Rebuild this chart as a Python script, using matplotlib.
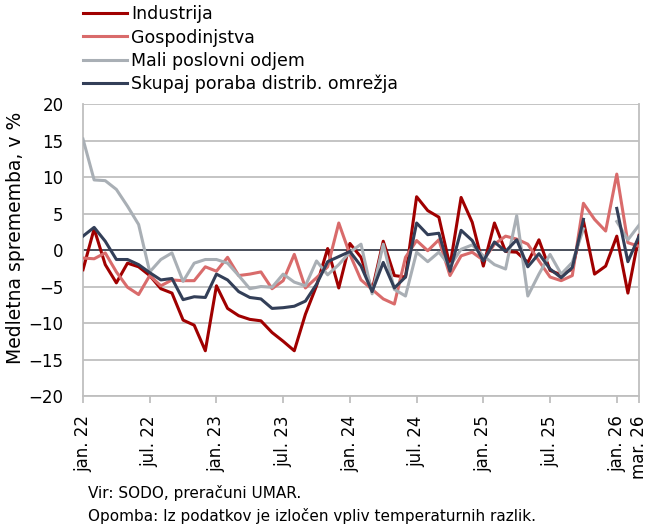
import numpy as np
import matplotlib.pyplot as plt

nan = np.nan

# monthly values, jan. 22 .. mar. 26 (51 months)
industrija = [-2.7, 2.9, -2.0, -4.5, -1.8, -2.3, -3.5, -5.3, -5.9, -9.6,
              -10.3, -13.8, -4.9, -8.0, -9.0, -9.5, -9.7, -11.3, -12.5, -13.8,
              -8.8, -4.9, 0.2, -5.2, 0.9, -1.0, -5.5, 1.2, -3.5, -3.7,
              7.3, 5.4, 4.5, -2.2, 7.2, 3.8, -2.2, 3.7, -0.2, -0.3,
              -1.7, 1.4, -2.8, -3.4, -2.6, 4.0, -3.3, -2.2, 1.9, -5.9, 2.0]
gospodinjstva = [-1.1, -1.2, -0.4, -3.0, -5.1, -6.1, -3.5, -4.9, -4.1, -4.2,
                 -4.2, -2.3, -2.9, -1.0, -3.5, -3.3, -3.0, -5.3, -4.2, -0.6,
                 -5.2, -3.8, -2.3, 3.7, -0.6, -4.1, -5.4, -6.7, -7.4, -1.0,
                 1.3, -0.1, 1.4, -3.5, -0.8, -0.3, -1.4, 0.8, 1.9, 1.5,
                 0.8, -1.5, -3.7, -4.2, -3.5, 6.4, 4.2, 2.6, 10.4, 1.0, 0.5]
mali_odjem = [15.2, 9.6, 9.5, 8.3, 6.0, 3.5, -3.0, -1.3, -0.4, -4.3,
              -1.8, -1.3, -1.3, -1.8, -3.5, -5.3, -5.0, -5.1, -3.3, -4.4,
              -4.9, -1.5, -3.4, -2.0, -0.3, 0.8, -6.0, 0.8, -5.4, -6.3,
              -0.3, -1.6, -0.3, -2.2, 0.1, 0.7, -0.8, -2.0, -2.6, 4.7,
              -6.3, -3.3, -0.6, -3.3, -1.7, 2.9, nan, nan, 3.9, 1.4, 3.4]
skupaj = [1.9, 3.1, 1.2, -1.3, -1.3, -2.0, -3.1, -4.1, -3.9, -6.8,
          -6.4, -6.5, -3.3, -4.1, -5.7, -6.5, -6.7, -8.0, -7.9, -7.7,
          -7.0, -4.7, -1.6, -0.9, -0.2, -2.2, -5.7, -1.7, -5.2, -3.7,
          3.7, 2.1, 2.3, -2.9, 2.7, 1.3, -1.5, 1.1, -0.2, 1.4,
          -2.3, -0.5, -2.6, -3.8, -2.4, 4.2, nan, nan, 5.7, -1.6, 1.9]

tick_pos = [0, 6, 12, 18, 24, 30, 36, 42, 48, 50]
tick_labels = ['jan. 22', 'jul. 22', 'jan. 23', 'jul. 23', 'jan. 24',
               'jul. 24', 'jan. 25', 'jul. 25', 'jan. 26', 'mar. 26']

def main():
  fig = plt.figure(figsize=(6.51, 5.32), dpi=100)
  ax = fig.add_axes([0.1275, 0.2556, 0.8541, 0.5489])
  x = np.arange(len(industrija))

  grid_c = '#BFBFBF'
  ax.plot(x, industrija, color='#A00000', lw=2.2, label='Industrija', zorder=3)
  ax.plot(x, gospodinjstva, color='#D96B6B', lw=2.2, label='Gospodinjstva', zorder=3)
  ax.plot(x, mali_odjem, color='#A9AFB5', lw=2.2, label='Mali poslovni odjem', zorder=3)
  ax.plot(x, skupaj, color='#333F58', lw=2.2, label='Skupaj poraba distrib. omrežja', zorder=4)
  ax.axhline(0, color='#4A4F5C', lw=1.4, zorder=2)

  ax.set_xlim(0, 50)
  ax.set_ylim(-20, 20)
  ax.set_yticks(np.arange(-20, 21, 5))
  ax.yaxis.grid(True, color=grid_c, lw=1.3)
  ax.set_axisbelow(True)
  ax.tick_params(axis='y', length=0, labelsize=12, pad=14, colors='black')
  ax.set_xticks(tick_pos)
  ax.set_xticklabels(tick_labels, rotation=90, fontsize=12)
  ax.tick_params(axis='x', length=5, color=grid_c, width=1.3, pad=9)
  for s in ['left', 'right', 'bottom']:
    ax.spines[s].set_color(grid_c)
    ax.spines[s].set_linewidth(1.3)
  ax.spines['top'].set_visible(False)

  ax.set_ylabel('Medletna sprememba, v %', fontsize=13.5)
  ax.yaxis.set_label_coords(-0.105, 0.54)

  fig.legend(loc='upper left', bbox_to_anchor=(0.128, 0.99), frameon=False,
             fontsize=12.5, handlelength=2.5, handletextpad=0.25,
             labelspacing=0.3, borderpad=0.0, borderaxespad=0.0)

  fig.text(0.135, 0.073, 'Vir: SODO, preračuni UMAR.', fontsize=11, va='center')
  fig.text(0.135, 0.030, 'Opomba: Iz podatkov je izločen vpliv temperaturnih razlik.',
           fontsize=11, va='center')

  plt.savefig('out.png', dpi=100)

if __name__ == "__main__":
  main()
